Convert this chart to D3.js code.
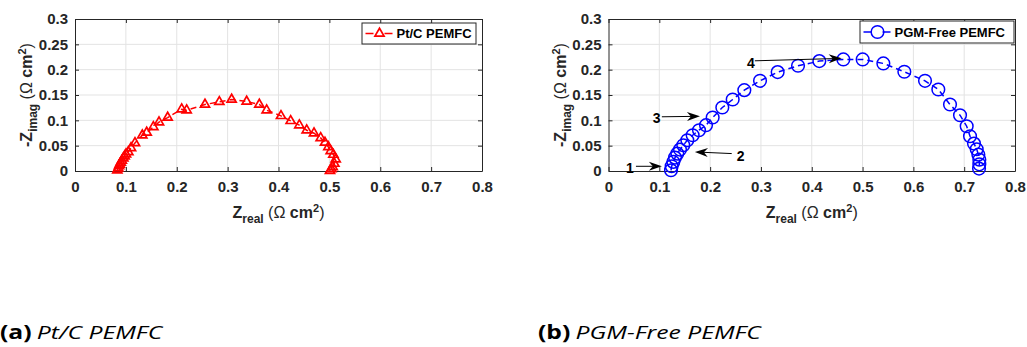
<!DOCTYPE html>
<html><head><meta charset="utf-8">
<script src="https://cdn.jsdelivr.net/npm/d3@7"></script>
<style>html,body{margin:0;padding:0;background:#fff;}svg{display:block;}</style>
</head><body><svg id="c" width="1027" height="347"></svg>
<script>
// ---- data ----
const xTicks = [0, 0.1, 0.2, 0.3, 0.4, 0.5, 0.6, 0.7, 0.8];
const xTickLabels = ["0", "0.1", "0.2", "0.3", "0.4", "0.5", "0.6", "0.7", "0.8"];
const yTicks = [0, 0.05, 0.1, 0.15, 0.2, 0.25, 0.3];
const yTickLabels = ["0", "0.05", "0.1", "0.15", "0.2", "0.25", "0.3"];

const ptcZreal = [0.0832,0.0850,0.0865,0.0880,0.0898,0.0920,0.0950,0.0975,0.1002,0.1048,0.1101,0.1179,0.1323,0.1409,0.1540,0.1651,0.1821,0.2097,0.2195,0.2555,0.2837,0.3079,0.3374,0.3623,0.3767,0.4049,0.4239,0.4409,0.4554,0.4698,0.4829,0.4914,0.4980,0.5026,0.5078,0.5124,0.5098,0.5065,0.5040,0.5012];
const ptcZimag = [0.0014,0.0055,0.0099,0.0130,0.0165,0.0205,0.0251,0.0290,0.0330,0.0376,0.0455,0.0554,0.0706,0.0759,0.0870,0.0963,0.1055,0.1220,0.1200,0.1312,0.1365,0.1411,0.1372,0.1312,0.1200,0.1088,0.0989,0.0904,0.0805,0.0746,0.0653,0.0561,0.0475,0.0396,0.0323,0.0231,0.0146,0.0080,0.0040,0.0007];

const pgmZreal = [0.1230,0.1243,0.1275,0.1309,0.1354,0.1407,0.1472,0.1551,0.1656,0.1781,0.1919,0.2050,0.2240,0.2444,0.2673,0.2982,0.3329,0.3730,0.4149,0.4622,0.5002,0.5409,0.5822,0.6229,0.6491,0.6721,0.6918,0.7049,0.7115,0.7193,0.7246,0.7279,0.7298,0.7298,0.7292];
const pgmZimag = [0.0014,0.0093,0.0179,0.0264,0.0343,0.0422,0.0508,0.0607,0.0706,0.0805,0.0904,0.1055,0.1253,0.1411,0.1596,0.1780,0.1952,0.2077,0.2169,0.2202,0.2202,0.2123,0.1958,0.1780,0.1609,0.1312,0.1101,0.0884,0.0686,0.0541,0.0429,0.0323,0.0224,0.0132,0.0047];

// annotations (data units): label, tail x,y, head x,y, label x,y
const arrowLabels = ["1", "2", "3", "4"];
const arrowTail = [[0.054, 0.0093], [0.2425, 0.0344], [0.105, 0.107], [0.288, 0.2175]];
const arrowHead = [[0.105, 0.0093], [0.170, 0.0376], [0.180, 0.108], [0.459, 0.2223]];
const arrowLabelPos = [[0.042, 0.0065], [0.260, 0.0305], [0.095, 0.1055], [0.280, 0.2135]];

const legendNames = ["Pt/C PEMFC", "PGM-Free PEMFC"];
const captions = [["(a)", "Pt/C PEMFC"], ["(b)", "PGM-Free PEMFC"]];

// ---- drawing ----
const svg = d3.select("#c");
const FONT = "'Liberation Sans', Arial, Helvetica, sans-serif";
const axisColor = "#262626";

function panel(opt) {
  const g = svg.append("g");
  const x = d3.scaleLinear().domain([0, 0.8]).range([opt.x0, opt.x1]);
  const y = d3.scaleLinear().domain([0, 0.3]).range([opt.y1, opt.y0]);

  // grid
  g.append("g").selectAll("line.gx").data(xTicks.slice(1, -1)).join("line")
    .attr("x1", d => x(d)).attr("x2", d => x(d)).attr("y1", opt.y0).attr("y2", opt.y1)
    .attr("stroke", "#e3e3e3").attr("stroke-width", 1);
  g.append("g").selectAll("line.gy").data(yTicks.slice(1, -1)).join("line")
    .attr("y1", d => y(d)).attr("y2", d => y(d)).attr("x1", opt.x0).attr("x2", opt.x1)
    .attr("stroke", "#e3e3e3").attr("stroke-width", 1);

  // axes via d3 axis
  const fmtX = (d, i) => xTickLabels[i];
  const fmtY = (d, i) => yTickLabels[i];
  const ax = g.append("g").attr("transform", `translate(0,${opt.y1})`)
    .call(d3.axisBottom(x).tickValues(xTicks).tickFormat(fmtX).tickSizeInner(-4).tickSizeOuter(0).tickPadding(12));
  const ay = g.append("g").attr("transform", `translate(${opt.x0},0)`)
    .call(d3.axisLeft(y).tickValues(yTicks).tickFormat(fmtY).tickSizeInner(-4).tickSizeOuter(0).tickPadding(7));
  const axT = g.append("g").attr("transform", `translate(0,${opt.y0})`)
    .call(d3.axisTop(x).tickValues(xTicks).tickFormat("").tickSizeInner(-4).tickSizeOuter(0));
  const ayR = g.append("g").attr("transform", `translate(${opt.x1},0)`)
    .call(d3.axisRight(y).tickValues(yTicks).tickFormat("").tickSizeInner(-4).tickSizeOuter(0));
  [ax, ay, axT, ayR].forEach(a => {
    a.select(".domain").attr("stroke", axisColor).attr("stroke-width", 1);
    a.selectAll(".tick line").attr("stroke", axisColor);
    a.selectAll("text").attr("fill", "#262626").attr("font-family", FONT)
      .attr("font-weight", "bold").attr("font-size", 15);
  });
  ax.selectAll("text").attr("dy", "0.6em");

  // x label
  const xl = g.append("text").attr("x", (opt.x0 + opt.x1) / 2).attr("y", opt.y1 + 47)
    .attr("text-anchor", "middle").attr("font-family", FONT).attr("font-weight", "bold")
    .attr("font-size", 16).attr("fill", "#262626");
  xl.append("tspan").text("Z");
  xl.append("tspan").attr("font-size", 12).attr("dy", 5).text("real");
  xl.append("tspan").attr("dy", -5).attr("font-weight", "normal").text(" (");
  xl.append("tspan").attr("font-weight", "normal").text("Ω");
  xl.append("tspan").text(" cm");
  xl.append("tspan").attr("font-size", 11).attr("dy", -6).text("2");
  xl.append("tspan").attr("dy", 6).attr("font-weight", "normal").text(")");

  // y label
  const yl = g.append("text")
    .attr("transform", `translate(${opt.x0 - 43},${(opt.y0 + opt.y1) / 2}) rotate(-90)`)
    .attr("text-anchor", "middle").attr("font-family", FONT).attr("font-weight", "bold")
    .attr("font-size", 16).attr("fill", "#262626");
  yl.append("tspan").text("-Z");
  yl.append("tspan").attr("font-size", 12).attr("dy", 5).text("imag");
  yl.append("tspan").attr("dy", -5).attr("font-weight", "normal").text(" (");
  yl.append("tspan").attr("font-weight", "normal").text("Ω");
  yl.append("tspan").text(" cm");
  yl.append("tspan").attr("font-size", 11).attr("dy", -6).text("2");
  yl.append("tspan").attr("dy", 6).attr("font-weight", "normal").text(")");

  // data line
  const pts = opt.xs.map((v, i) => [v, opt.ys[i]]);
  g.append("path").datum(pts)
    .attr("d", d3.line().x(d => x(d[0])).y(d => y(d[1])))
    .attr("fill", "none").attr("stroke", opt.color).attr("stroke-width", 1.5)
    .attr("stroke-dasharray", "6,4");
  // markers
  g.append("g").selectAll("path").data(pts).join("path")
    .attr("transform", d => `translate(${x(d[0])},${y(d[1])})`)
    .attr("d", opt.symbol)
    .attr("fill", "none").attr("stroke", opt.color).attr("stroke-width", opt.mw);

  // legend
  const lg = g.append("g");
  lg.append("rect").attr("x", opt.leg[0] + 0.5).attr("y", opt.leg[1] + 0.5)
    .attr("width", opt.leg[2]).attr("height", opt.leg[3])
    .attr("fill", "#fff").attr("stroke", axisColor).attr("stroke-width", 1);
  const ly = opt.leg[1] + opt.leg[3] / 2 + 0.5;
  lg.append("line").attr("x1", opt.leg[0] + 4).attr("x2", opt.leg[0] + 31)
    .attr("y1", ly).attr("y2", ly).attr("stroke", opt.color).attr("stroke-width", 1.5)
    .attr("stroke-dasharray", "8,11");
  lg.append("path").attr("transform", `translate(${opt.leg[0] + 18},${ly})`).attr("d", opt.symbol)
    .attr("fill", "none").attr("stroke", opt.color).attr("stroke-width", opt.mw);
  lg.append("text").attr("x", opt.leg[0] + 35).attr("y", ly + 4.5)
    .attr("font-family", FONT).attr("font-weight", "bold").attr("font-size", 13)
    .attr("fill", "#000").text(opt.name);

  return { g, x, y };
}

const tri = d3.symbol().type(d3.symbolTriangle).size(36)();
const circ = d3.symbol().type(d3.symbolCircle).size(Math.PI * 40)();

panel({ x0: 75, x1: 482, y0: 19, y1: 171, xs: ptcZreal, ys: ptcZimag, color: "#ff0000",
  symbol: tri, mw: 1.7, name: legendNames[0], leg: [361.5, 22.5, 114, 21] });
const p2 = panel({ x0: 608.5, x1: 1015, y0: 19, y1: 171, xs: pgmZreal, ys: pgmZimag, color: "#0000ff",
  symbol: circ, mw: 1.5, name: legendNames[1], leg: [859.5, 20.5, 154, 22] });

// arrows
arrowLabels.forEach((lab, i) => {
  const [tx, ty] = [p2.x(arrowTail[i][0]), p2.y(arrowTail[i][1])];
  const [hx, hy] = [p2.x(arrowHead[i][0]), p2.y(arrowHead[i][1])];
  const ang = Math.atan2(hy - ty, hx - tx) * 180 / Math.PI;
  p2.g.append("line").attr("x1", tx).attr("y1", ty).attr("x2", hx - 6 * Math.cos(ang * Math.PI / 180))
    .attr("y2", hy - 6 * Math.sin(ang * Math.PI / 180)).attr("stroke", "#000").attr("stroke-width", 1);
  p2.g.append("path").attr("transform", `translate(${hx},${hy}) rotate(${ang})`)
    .attr("d", "M0,0 L-13,-4.5 L-9,0 L-13,4.5 Z").attr("fill", "#000");
  p2.g.append("text").attr("x", p2.x(arrowLabelPos[i][0])).attr("y", p2.y(arrowLabelPos[i][1]) + 5)
    .attr("text-anchor", "middle").attr("font-family", FONT).attr("font-weight", "bold")
    .attr("font-size", 14).attr("fill", "#000").text(lab);
});

// captions
const capX = [0, 538];
captions.forEach((c, i) => {
  const t = svg.append("text").attr("transform", `translate(${capX[i]},339) scale(1.3,1)`)
    .attr("font-family", "'Open Sans', 'Noto Sans', sans-serif").attr("font-size", 19).attr("fill", "#000");
  t.append("tspan").attr("font-weight", "bold").text(c[0]);
  t.append("tspan").attr("font-style", "italic").attr("dx", 4).text(c[1]);
});
</script></body></html>
